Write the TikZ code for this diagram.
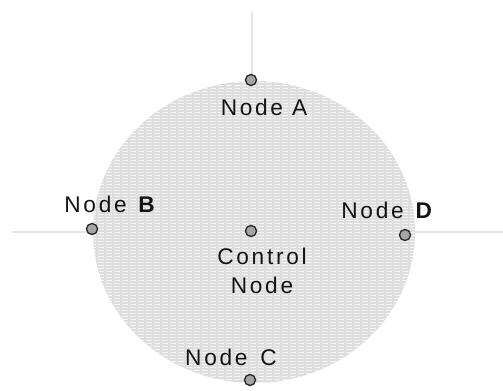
\documentclass[tikz,border=0pt]{standalone}
\usepackage{fontspec}
\newfontfamily\lblfont[LetterSpace=12]{Liberation Sans}
\usepackage{tikz}

\tikzset{
  axisline/.style={draw={rgb,255:red,230;green,230;blue,230}, line width=0.9pt},
  dotnode/.style={circle, draw={rgb,255:red,40;green,40;blue,40}, fill={rgb,255:red,165;green,165;blue,165}, line width=1pt, minimum size=8.3pt, inner sep=0pt},
  lbl/.style={font=\lblfont\fontsize{17}{22}\selectfont, text={rgb,255:red,20;green,20;blue,20}, align=center, inner sep=0pt}
}

\begin{document}
\begin{tikzpicture}[x=0.75pt,y=0.75pt,yscale=-1,xscale=1]
		\useasboundingbox (0,0) rectangle (503,391);
		
		% axes behind the area
		\coordinate (top) at (252,12);
		\coordinate (left) at (12,232);
		\coordinate (right) at (503,232);
		\draw [axisline] (top) -- (252,232);
		\draw [axisline] (left) -- (right);
		
		% control area
		\fill [color={rgb, 255:red, 222; green, 222; blue, 222 }] (254,232) circle [x radius= 161, y radius= 151];
		\begin{scope}
		\clip (254,232) circle [x radius= 161, y radius= 151];
		\foreach \yy in {82,85,...,385}
		\draw [color={rgb, 255:red, 244; green, 244; blue, 244 }, line width=0.6pt, dash pattern=on 4.5pt off 1.5pt] (90,\yy) -- (420,\yy);
		\end{scope}
		
		% nodes
		\node [dotnode] (a) at (251,80) {};
		\node [dotnode] (b) at (92,229) {};
		\node [dotnode] (ctl) at (251,231) {};
		\node [dotnode] (d) at (405,235) {};
		\node [dotnode] (c) at (250,380) {};
		
		% labels
		\node [lbl] (alabel) at (264,107) {Node A};
		\node [lbl] (blabel) at (111,204) {Node \textbf{B}};
		\node [lbl] (ctllabel) at (262,271) {Control\\Node};
		\node [lbl] (dlabel) at (388,210) {Node \textbf{D}};
		\node [lbl] (clabel) at (231,357) {Node\, C};
		
\end{tikzpicture}
\end{document}
